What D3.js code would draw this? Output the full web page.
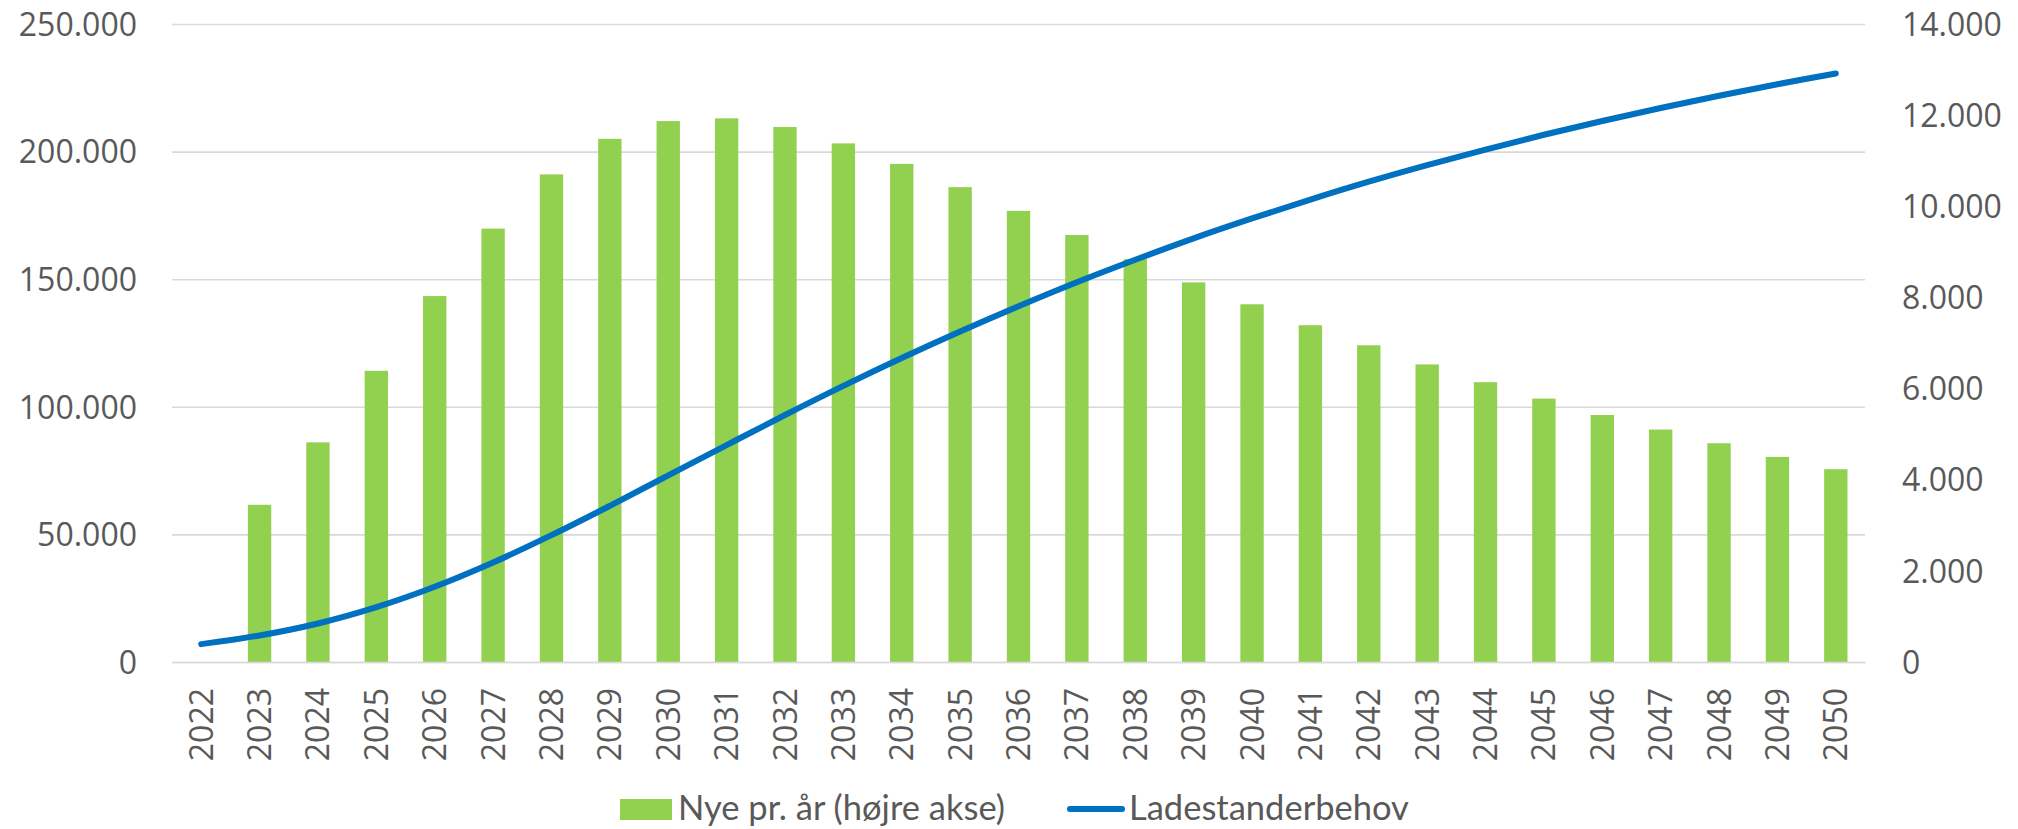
<!DOCTYPE html>
<html>
<head>
<meta charset="utf-8">
<script src="https://cdn.jsdelivr.net/npm/d3@7"></script>
<style>
  body { margin: 0; background: #fff; }
  .axis text { font-family: "Open Sans", sans-serif; font-size: 32px; fill: #595959; }
  .legend text { font-family: Lato, "Open Sans", sans-serif; font-size: 34.5px; fill: #595959; }
</style>
</head>
<body>
<script>

// values
var years = ["2022","2023","2024","2025","2026","2027","2028","2029","2030","2031",
             "2032","2033","2034","2035","2036","2037","2038","2039","2040","2041",
             "2042","2043","2044","2045","2046","2047","2048","2049","2050"];

// Nye pr. år (right axis) - no bar for 2022
var nye = [null, 3450, 4820, 6390, 8030, 9510, 10700, 11480, 11870, 11930,
           11740, 11380, 10930, 10420, 9900, 9370, 8840, 8330, 7850, 7390,
           6950, 6530, 6140, 5780, 5420, 5100, 4800, 4500, 4230];

// Ladestanderbehov (left axis)
var behov = [7000, 10400, 15100, 21500, 29500, 39000, 49700, 61200, 73100, 85000,
             96800, 108200, 119100, 129500, 139400, 148800, 157600, 166000, 173800, 181200,
             188200, 194700, 200800, 206600, 212000, 217100, 221900, 226400, 230600];

var leftTicks  = [0, 50000, 100000, 150000, 200000, 250000];
var rightTicks = [0, 2000, 4000, 6000, 8000, 10000, 12000, 14000];

var legendLabels = ["Nye pr. år (højre akse)", "Ladestanderbehov"];


var size_graph = { x: 2018, y: 829 };

var margin = {top: 24, right: 153, bottom: 167, left: 172},
    width  = size_graph.x - margin.left - margin.right,
    height = size_graph.y - margin.top - margin.bottom;

var green = "#92D050",
    blue  = "#0070C0",
    grid  = "#D9D9D9";

var fmt = d3.formatLocale({decimal: ",", thousands: ".", grouping: [3], currency: ["", ""]}).format(",");

var x = d3.scaleBand()
    .domain(years)
    .range([0, width])
    .paddingInner(0.6)
    .paddingOuter(0.3);

var yL = d3.scaleLinear().domain([0, 250000]).range([height, 0]);
var yR = d3.scaleLinear().domain([0, 14000]).range([height, 0]);

var svg = d3.select("body").append("svg")
    .attr("width", size_graph.x)
    .attr("height", size_graph.y)
  .append("g")
    .attr("transform", `translate(${margin.left},${margin.top})`);

// gridlines + left labels
var gl = svg.append("g")
    .attr("class", "axis")
    .call(d3.axisLeft(yL).tickValues(leftTicks).tickSize(-width).tickFormat(fmt).tickPadding(35));
gl.select(".domain").remove();
gl.selectAll("line").attr("stroke", grid).attr("stroke-width", 1.6);
gl.selectAll("text").attr("dy", "0.35em");

// right labels
var gr = svg.append("g")
    .attr("class", "axis")
    .attr("transform", `translate(${width},0)`)
    .call(d3.axisRight(yR).tickValues(rightTicks).tickSize(0).tickFormat(fmt).tickPadding(37));
gr.select(".domain").remove();
gr.selectAll("text").attr("dy", "0.35em");

// bars
svg.selectAll(".bar")
    .data(years.map((d, i) => ({year: d, v: nye[i]})).filter(d => d.v != null))
    .enter().append("rect")
    .attr("class", "bar")
    .attr("x", d => x(d.year))
    .attr("width", x.bandwidth())
    .attr("y", d => yR(d.v))
    .attr("height", d => height - yR(d.v))
    .attr("fill", green);

// bottom axis
var gx = svg.append("g")
    .attr("class", "axis")
    .attr("transform", `translate(0,${height})`)
    .call(d3.axisBottom(x).tickSize(0));
gx.select(".domain").attr("stroke", grid).attr("stroke-width", 1.6);
gx.selectAll("text")
    .attr("transform", "rotate(-90)")
    .attr("text-anchor", "end")
    .attr("x", -26)
    .attr("y", 0)
    .attr("dy", "0.36em");

// line
var line = d3.line()
    .x((d, i) => x(years[i]) + x.bandwidth() / 2)
    .y(d => yL(d))
    .curve(d3.curveCatmullRom);

svg.append("path")
    .datum(behov)
    .attr("fill", "none")
    .attr("stroke", blue)
    .attr("stroke-width", 6)
    .attr("stroke-linecap", "round")
    .attr("d", line);

// legend
var lg = d3.select("svg").append("g").attr("class", "legend");

lg.append("rect")
    .attr("x", 620).attr("y", 799)
    .attr("width", 52).attr("height", 21)
    .attr("fill", green);
lg.append("text")
    .attr("x", 678).attr("y", 820)
    .text(legendLabels[0]);

lg.append("line")
    .attr("x1", 1070).attr("x2", 1122)
    .attr("y1", 809).attr("y2", 809)
    .attr("stroke", blue)
    .attr("stroke-width", 6)
    .attr("stroke-linecap", "round");
lg.append("text")
    .attr("x", 1129).attr("y", 820)
    .text(legendLabels[1]);

</script>
</body>
</html>
